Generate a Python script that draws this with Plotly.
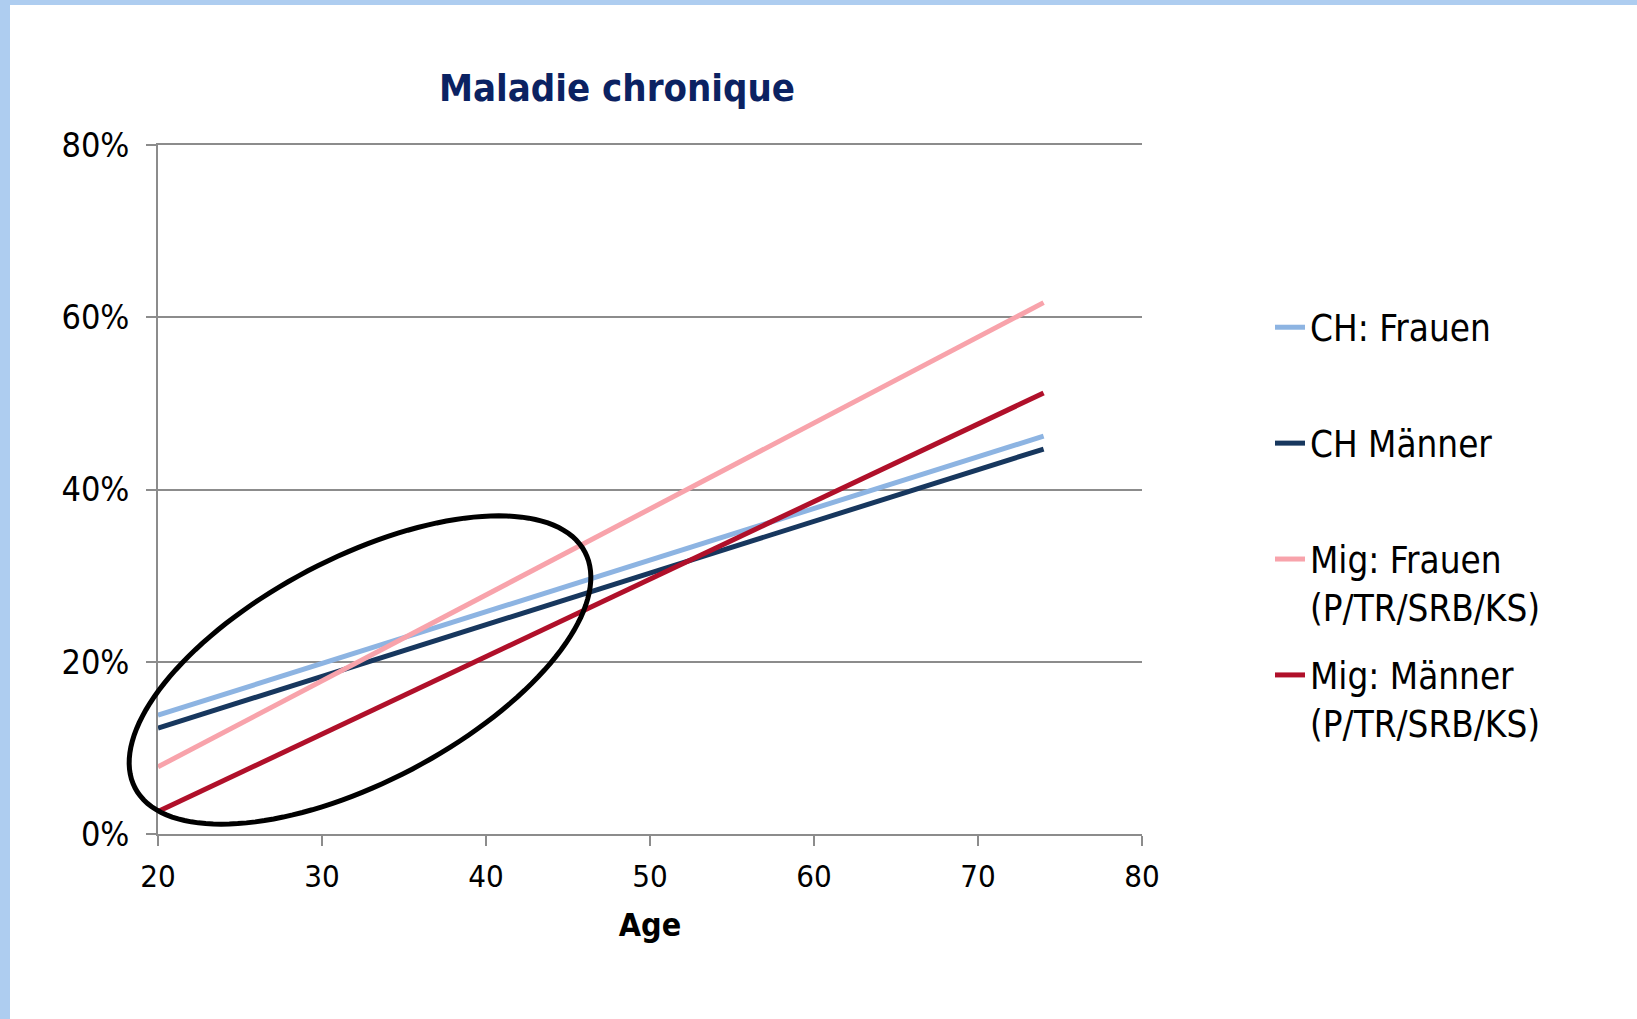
import numpy as np
import plotly.graph_objects as go

# ---------------- data ----------------
ages = [20, 74]
ch_frauen = [0.138, 0.462]
ch_maenner = [0.123, 0.447]
mig_frauen = [0.078, 0.617]
mig_maenner = [0.026, 0.512]

series_names = ["CH: Frauen", "CH Männer",
                "Mig: Frauen<br>(P/TR/SRB/KS)", "Mig: Männer<br>(P/TR/SRB/KS)"]
series_values = [ch_frauen, ch_maenner, mig_frauen, mig_maenner]
series_colors = ["#8DB4E2", "#17375E", "#F8A3AB", "#B0102A"]

x_ticks = [20, 30, 40, 50, 60, 70, 80]
y_ticks = [0, 0.2, 0.4, 0.6, 0.8]
y_tick_labels = ["0%", "20%", "40%", "60%", "80%"]

# ---------------- layout constants ----------------
W, H = 1637, 1019
ML, MR, MT, MB = 158, 495, 145, 185
X_RANGE = [20, 80]
Y_RANGE = [0, 0.8]
FONT = "DejaVu Sans Condensed, DejaVu Sans, Verdana, sans-serif"

pw = W - ML - MR
ph = H - MT - MB


def px2paper_x(px):
    return (px - ML) / pw


def px2paper_y(py):
    return (H - MB - py) / ph


fig = go.Figure()
for name, vals, col in zip(series_names, series_values, series_colors):
    # pad to two lines so every legend slot has the same height
    label = name if "<br>" in name else name + "<br> "
    fig.add_trace(go.Scatter(x=ages, y=vals, mode="lines", name=label,
                             legendgroup=name,
                             line=dict(color=col, width=5)))

# highlight ellipse (annotation), defined in page pixels, placed in paper units
cx_px, cy_px = 360, 670
a_px, b_px, ang = 254, 112, np.deg2rad(27.7)
t = np.linspace(0, 2 * np.pi, 145)
ex = cx_px + a_px * np.cos(t) * np.cos(ang) - b_px * np.sin(t) * np.sin(ang)
ey = cy_px - (a_px * np.cos(t) * np.sin(ang) + b_px * np.sin(t) * np.cos(ang))
path = "M " + " L ".join(f"{px2paper_x(x):.5f},{px2paper_y(y):.5f}"
                         for x, y in zip(ex, ey)) + " Z"
fig.add_shape(type="path", path=path, xref="paper", yref="paper",
              line=dict(color="black", width=5), layer="above")

# light-blue page frame (top and left)
frame = "#AECDF0"
fig.add_shape(type="rect", xref="paper", yref="paper",
              x0=px2paper_x(0), x1=px2paper_x(10), y0=px2paper_y(H), y1=px2paper_y(0),
              fillcolor=frame, line_width=0, layer="below")
fig.add_shape(type="rect", xref="paper", yref="paper",
              x0=px2paper_x(0), x1=px2paper_x(W), y0=px2paper_y(5), y1=px2paper_y(0),
              fillcolor=frame, line_width=0, layer="below")

grid = "#8C8C8C"
fig.update_layout(
    width=W, height=H,
    margin=dict(l=ML, r=MR, t=MT, b=MB, autoexpand=False),
    paper_bgcolor="white", plot_bgcolor="white",
    font=dict(family=FONT, color="black", size=31),
    title=dict(text="<b>Maladie chronique</b>", x=px2paper_x(617), xref="paper",
               xanchor="center", y=1 - 88 / H, yanchor="middle",
               font=dict(family=FONT, size=38, color="#0B2262")),
    showlegend=True,
    legend=dict(x=px2paper_x(1270), y=px2paper_y(297), xanchor="left", yanchor="top",
                font=dict(family=FONT, size=36.5, color="black"),
                tracegroupgap=18, valign="top", itemwidth=30,
                bgcolor="rgba(0,0,0,0)"),
    xaxis=dict(range=X_RANGE, tickvals=x_ticks, showgrid=False, zeroline=False,
               showline=True, mirror=True, linecolor=grid, linewidth=1.5,
               ticks="outside", ticklen=10, tickcolor=grid, tickwidth=1.5,
               tickfont=dict(size=31), ticklabelstandoff=4,
               title=dict(text="<b>Age</b>", font=dict(size=32), standoff=21)),
    yaxis=dict(range=Y_RANGE, tickvals=y_ticks, ticktext=y_tick_labels,
               showgrid=True, gridcolor=grid, gridwidth=1.5, zeroline=False,
               showline=True, linecolor=grid, linewidth=1.5,
               ticks="outside", ticklen=10, tickcolor=grid, tickwidth=1.5,
               tickfont=dict(size=34), ticklabelstandoff=10),
)

fig.write_html("out.html", config={"displayModeBar": False},
               post_script="document.body.style.margin='0';")
